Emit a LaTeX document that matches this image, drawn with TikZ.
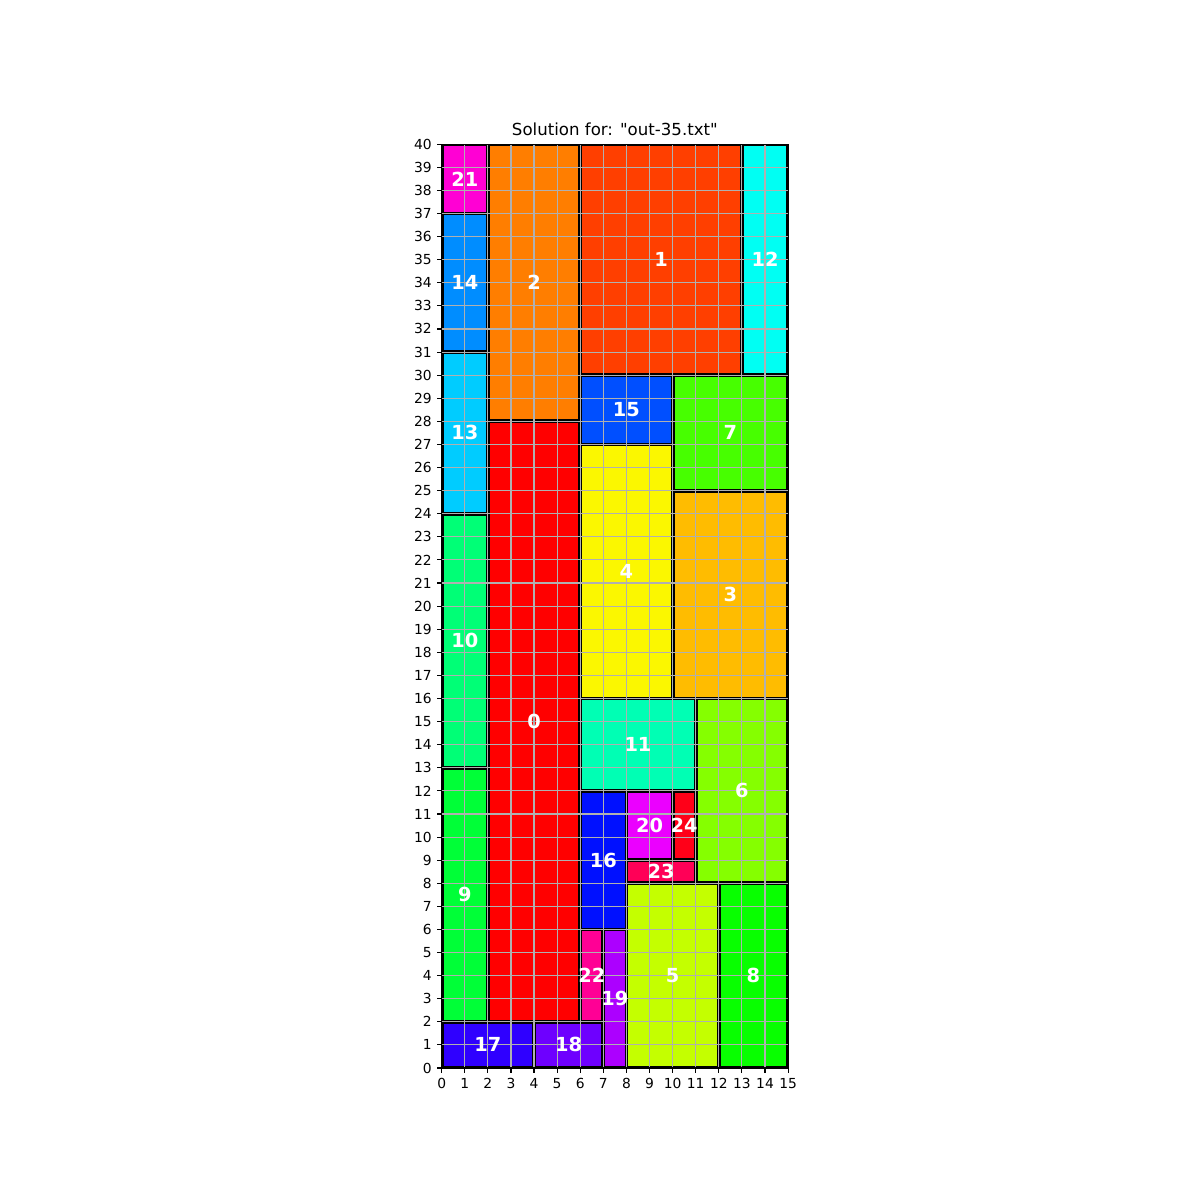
\documentclass[tikz,border=0pt]{standalone}
\usepackage{fontspec}
\setmainfont{DejaVu Sans}[Ligatures=TeXOff]
\usepackage{tikz}
\usetikzlibrary{calc}
\definecolor{box0}{RGB}{255,0,0}
\definecolor{box1}{RGB}{255,63,0}
\definecolor{box2}{RGB}{255,126,0}
\definecolor{box3}{RGB}{255,188,0}
\definecolor{box4}{RGB}{251,247,0}
\definecolor{box5}{RGB}{196,255,0}
\definecolor{box6}{RGB}{133,255,0}
\definecolor{box7}{RGB}{71,255,0}
\definecolor{box8}{RGB}{8,255,0}
\definecolor{box9}{RGB}{0,255,55}
\definecolor{box10}{RGB}{0,255,118}
\definecolor{box11}{RGB}{0,255,180}
\definecolor{box12}{RGB}{0,255,243}
\definecolor{box13}{RGB}{0,204,255}
\definecolor{box14}{RGB}{0,141,255}
\definecolor{box15}{RGB}{0,79,255}
\definecolor{box16}{RGB}{0,16,255}
\definecolor{box17}{RGB}{47,0,255}
\definecolor{box18}{RGB}{110,0,255}
\definecolor{box19}{RGB}{172,0,255}
\definecolor{box20}{RGB}{235,0,255}
\definecolor{box21}{RGB}{255,0,212}
\definecolor{box22}{RGB}{255,0,149}
\definecolor{box23}{RGB}{255,0,87}
\definecolor{box24}{RGB}{255,0,24}
\definecolor{gridgray}{RGB}{176,176,176}
\tikzset{
  boxedge/.style={draw=black,line width=1.1pt},
  gridline/.style={draw=gridgray,line width=0.8pt},
  tickline/.style={draw=black,line width=0.8pt},
  ticklabel/.style={inner sep=0pt,font=\fontsize{10}{12}\selectfont},
  boxlabel/.style={inner sep=0pt,text=white,font=\fontsize{14}{16}\selectfont\bfseries},
  titlelabel/.style={inner sep=0pt,font=\fontsize{12}{14}\selectfont}
}

\begin{document}
\begin{tikzpicture}[x=0.0254cm,y=0.0254cm]
\useasboundingbox (0,0) rectangle (1200,1200);
\begin{scope}[xshift=11.22045cm,yshift=3.3528cm,x=0.58674cm,y=0.58674cm]
\coordinate[] (O) at (0,0);
\coordinate[] (T) at (15,40);
\foreach \k/\x/\y/\w/\h in {0/2/2/4/26, 1/6/30/7/10, 2/2/28/4/12, 3/10/16/5/9,
  4/6/16/4/11, 5/8/0/4/8, 6/11/8/4/8, 7/10/25/5/5, 8/12/0/3/8, 9/0/2/2/11,
  10/0/13/2/11, 11/6/12/5/4, 12/13/30/2/10, 13/0/24/2/7, 14/0/31/2/6,
  15/6/27/4/3, 16/6/6/2/6, 17/0/0/4/2, 18/4/0/3/2, 19/7/0/1/6, 20/8/9/2/3,
  21/0/37/2/3, 22/6/2/1/4, 23/8/8/3/1, 24/10/9/1/3}
  \draw [boxedge,fill=box\k] ({\x+0.05},{\y+0.05}) rectangle ({\x+\w-0.05},{\y+\h-0.05});
\draw [gridline,step=1] (O) grid (T);
\draw [tickline] (O) rectangle (T);
\foreach \i in {0,...,15}{
  \draw [tickline] (\i,0) -- (\i,-0.21);
  \node[ticklabel,anchor=north] (xt\i) at (\i,-0.42) {\i};
}
\foreach \j in {0,...,40}{
  \draw [tickline] (0,\j) -- (-0.21,\j);
  \node[ticklabel,anchor=east] (yt\j) at (-0.42,\j) {\j};
}
\foreach \k/\x/\y in {0/4/15, 1/9.5/35, 2/4/34, 3/12.5/20.5, 4/8/21.5, 5/10/4,
  6/13/12, 7/12.5/27.5, 8/13.5/4, 9/1/7.5, 10/1/18.5, 11/8.5/14, 12/14/35,
  13/1/27.5, 14/1/34, 15/8/28.5, 16/7/9, 17/2/1, 18/5.5/1, 19/7.5/3,
  20/9/10.5, 21/1/38.5, 22/6.5/4, 23/9.5/8.5, 24/10.5/10.5}
  \node[boxlabel] (lbl\k) at (\x,\y) {\k};
\node[titlelabel,anchor=base] (title) at (7.5,40.36) {Solution for: "out-35.txt"};
\end{scope}
\end{tikzpicture}
\end{document}
